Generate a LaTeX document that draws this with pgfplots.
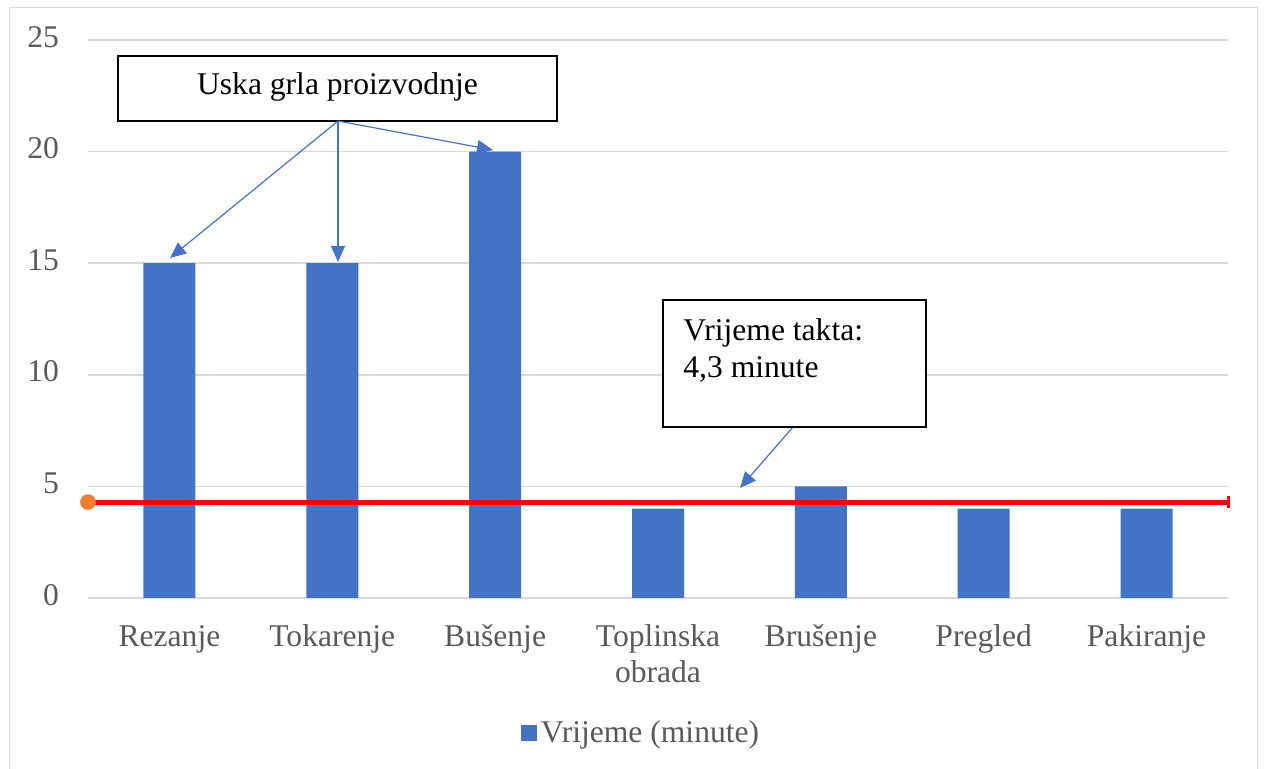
\documentclass[border=0pt]{standalone}
\usepackage{fontspec}
\setmainfont{Liberation Serif}
\usepackage{pgfplots}
\pgfplotsset{compat=1.18}
\usetikzlibrary{arrows.meta}
\definecolor{barblue}{HTML}{4472C4}
\definecolor{gridgray}{HTML}{D9D9D9}
\definecolor{labgray}{HTML}{595959}
\definecolor{dotorange}{HTML}{ED7D31}
\newcommand\chartfont{\fontsize{15.8}{18}\selectfont}
\begin{document}
\begin{tikzpicture}
\path[use as bounding box] (-44pt,299pt) rectangle (588pt,-85.5pt);
\begin{axis}[
 scale only axis, width=570pt, height=279pt,
 xmin=-0.5, xmax=6.5, ymin=0, ymax=25,
 ytick={0,5,...,25},
 xtick={0,...,6},
 xticklabels={Rezanje,Tokarenje,Bušenje,{Toplinska\\obrada},Brušenje,Pregled,Pakiranje},
 typeset ticklabels with strut,
 axis line style={draw=none},
 major tick length=0pt,
 ymajorgrids, grid style={gridgray, line width=0.75pt},
 tick label style={font=\chartfont, text=labgray},
 x tick label style={align=center, yshift=-8pt},
 y tick label style={xshift=-11pt},
 /pgf/number format/assume math mode=true,
 clip=false,
 legend style={at={(axis description cs:0.486,-0.242)}, anchor=center, draw=none, font=\chartfont, text=labgray, fill=none},
 legend image code/.code={\fill[barblue] (0pt,-4pt) rectangle (8pt,4pt);},
]
\addplot[ybar, bar width=26pt, bar shift=0pt, fill=barblue, draw=none] coordinates {(0,15) (1,15) (2,20) (3,4) (4,5) (5,4) (6,4)};
\addlegendentry{Vrijeme (minute)}
\addplot[red, line width=2.5pt, forget plot] coordinates {(-0.5,4.3) (6.5,4.3)};
\addplot[red, line width=1.5pt, forget plot] coordinates {(6.5,4.03) (6.5,4.57)};
\addplot[only marks, mark=*, mark size=3.7pt, mark options={fill=dotorange, draw=dotorange}, forget plot] coordinates {(-0.5,4.3)};
\end{axis}
\begin{scope}[shift={(-44pt,299pt)}, x=0.5pt, y=-0.5pt]
\draw[gridgray, line width=0.9pt] (9.5,769) -- (9.5,7.5) -- (1257.5,7.5) -- (1257.5,769);
\draw[black, line width=1pt, fill=white] (118,56) rectangle (557,121);
\node[font=\chartfont, anchor=base, inner sep=0pt] at (337.5,95) {Uska grla proizvodnje};
\begin{scope}[barblue, line width=0.6pt, -{Triangle[length=8pt,width=7pt]}]
\draw (338,121) -- (170,258);
\draw (338,121) -- (338,262);
\draw (338,121) -- (493,150);
\draw (793,427) -- (740,488);
\end{scope}
\draw[black, line width=1pt, fill=white] (663,300) rectangle (926,427);
\node[font=\chartfont, anchor=base west, inner sep=0pt] at (683,341) {Vrijeme takta:};
\node[font=\chartfont, anchor=base west, inner sep=0pt] at (683,378) {4,3 minute};
\end{scope}
\end{tikzpicture}
\end{document}
